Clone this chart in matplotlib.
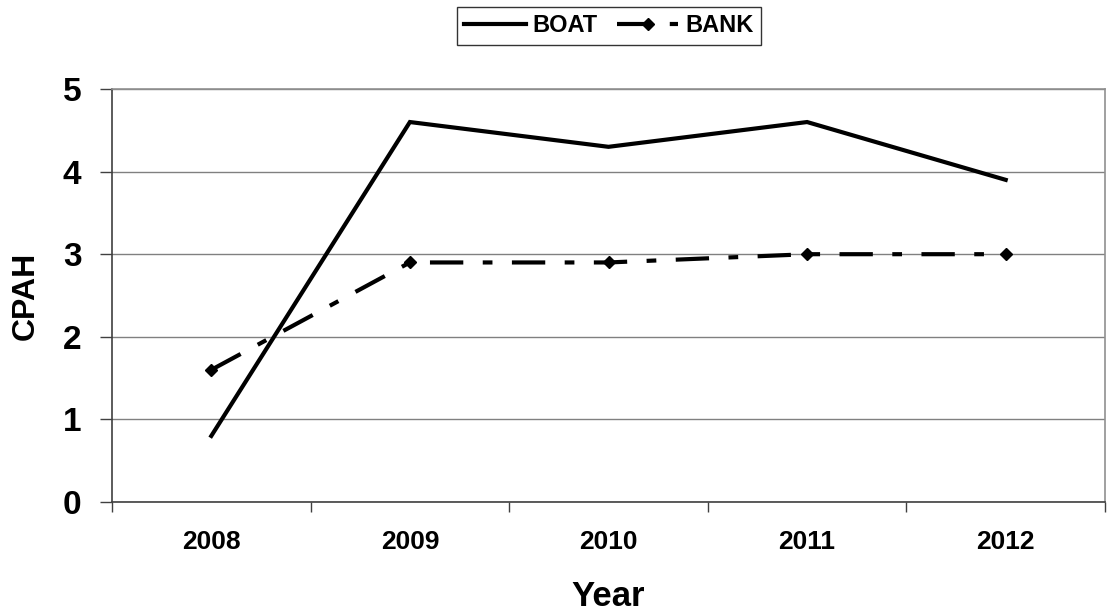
import matplotlib
matplotlib.use("Agg")
import matplotlib.pyplot as plt

years = ["2008", "2009", "2010", "2011", "2012"]
boat = [0.8, 4.6, 4.3, 4.6, 3.9]
bank = [1.6, 2.9, 2.9, 3.0, 3.0]
yticks = [0, 1, 2, 3, 4, 5]

plt.rcParams['font.family'] = ['Liberation Sans', 'DejaVu Sans']
plt.rcParams['font.weight'] = 'bold'
plt.rcParams['lines.scale_dashes'] = False

fig = plt.figure(figsize=(11.07, 6.14), dpi=100)
ax = fig.add_axes([112/1107, 1 - 502/614, (1105-112)/1107, (502-89)/614])

x = list(range(len(years)))
ax.plot(x, boat, color='black', lw=3.0, solid_joinstyle='miter', label='BOAT', zorder=3)
ax.plot(x, bank, color='black', lw=3.0, dashes=(24, 14, 7, 14),
        marker='D', markersize=6, label='BANK', zorder=3)

ax.set_xlim(-0.5, len(years) - 0.5)
ax.set_ylim(0, 5)
ax.set_yticks(yticks)
ax.set_yticklabels([str(v) for v in yticks], fontsize=24, fontweight='bold')
ax.set_xticks(x)
ax.set_xticklabels(years, fontsize=19, fontweight='bold')
ax.set_xticks([i - 0.5 for i in range(len(years) + 1)], minor=True)
ax.tick_params(axis='x', which='major', length=0, pad=20)
ax.tick_params(axis='x', which='minor', length=7, width=1, color='#404040', direction='out')
ax.tick_params(axis='y', length=9, width=1, color='#404040', direction='out', pad=13)

ax.grid(axis='y', color='#808080', lw=1)
ax.set_axisbelow(True)
for s in ['top', 'right']:
    ax.spines[s].set_color('#909090')
    ax.spines[s].set_linewidth(1.2)
for s in ['left', 'bottom']:
    ax.spines[s].set_color('#404040')
    ax.spines[s].set_linewidth(1.2)

ax.set_xlabel('Year', fontsize=25, fontweight='bold', labelpad=19)
ax.set_ylabel('CPAH', fontsize=23, fontweight='bold', labelpad=16)

leg = fig.legend(loc='center', bbox_to_anchor=(609/1107, 1 - 26/614), ncol=2,
                 frameon=True, fancybox=False, edgecolor='black',
                 handlelength=2.6, handletextpad=0.3, columnspacing=0.8,
                 borderpad=0.3, prop={'weight': 'bold', 'size': 17})
leg.get_frame().set_linewidth(1.0)

fig.savefig('out.png', dpi=100, facecolor='white')
